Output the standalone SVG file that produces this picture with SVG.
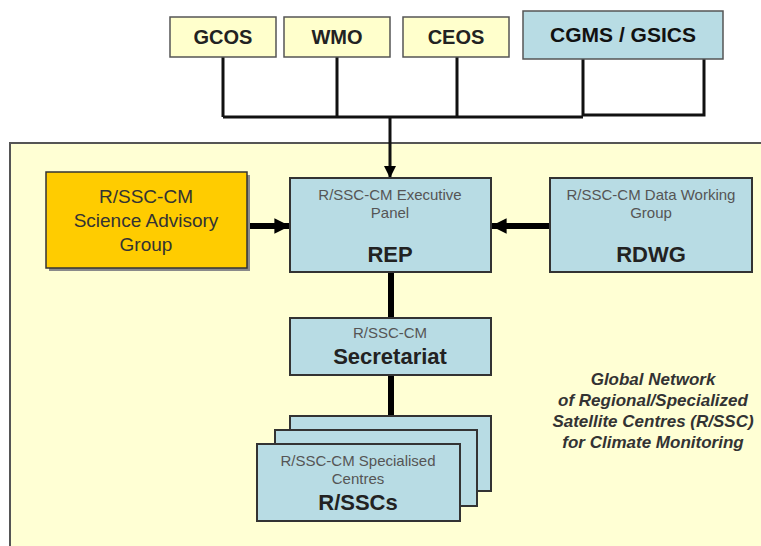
<svg xmlns="http://www.w3.org/2000/svg" width="761" height="546" viewBox="0 0 761 546">
<style>
text{font-family:"Liberation Sans",Arial,sans-serif;text-anchor:middle}
.top{fill:#FFFFCC;stroke:#555;stroke-width:1.5}
.blue{fill:#B8DCE4;stroke:#333;stroke-width:2}
.small{font-size:15px;fill:#555}
.big{font-size:22px;font-weight:bold;fill:#222}
.tb{font-size:20px;font-weight:bold;fill:#222}
.ln{stroke:#111;stroke-width:3;fill:none}
.thick{stroke:#000;stroke-width:6;fill:none}
.note{font-size:17px;font-weight:bold;font-style:italic;fill:#333}
</style>
<defs>
<marker id="ah" viewBox="0 0 10 10" refX="10" refY="5" markerWidth="4" markerHeight="4" orient="auto" markerUnits="strokeWidth"><path d="M0,0 L10,5 L0,10 z" fill="#000"/></marker>
<marker id="ah2" viewBox="0 0 10 10" refX="10" refY="5" markerWidth="2.6" markerHeight="3" orient="auto" markerUnits="strokeWidth"><path d="M0,0 L10,5 L0,10 z" fill="#000"/></marker>
</defs>
<rect width="761" height="546" fill="#fff"/>
<rect id="panel" x="10" y="143" width="770" height="420" fill="#FFFFD4" stroke="#555" stroke-width="2"/>
<g id="connectors">
<path class="ln" d="M223,57 V117 M337,57 V117 M457,57 V117 M223,117 H583 M583,59 V115 H704 V59"/>
<path class="ln" d="M390,117 V178" stroke-width="2" marker-end="url(#ah)"/>
<path class="thick" d="M248,226 H290" marker-end="url(#ah2)"/>
<path class="thick" d="M550,226 H491" marker-end="url(#ah2)"/>
<path class="thick" d="M391,272 V318 M391,375 V416"/>
</g>
<g id="gcos"><rect class="top" x="170" y="17" width="106" height="40"/><text class="tb" x="223" y="44">GCOS</text></g>
<g id="wmo"><rect class="top" x="284" y="17" width="106" height="40"/><text class="tb" x="337" y="44">WMO</text></g>
<g id="ceos"><rect class="top" x="403" y="17" width="106" height="40"/><text class="tb" x="456" y="44">CEOS</text></g>
<g id="cgms"><rect x="523" y="11" width="200" height="48" fill="#B8DCE4" stroke="#555" stroke-width="1.5"/><text x="623" y="42" style="font-size:21px;font-weight:bold;fill:#111">CGMS / GSICS</text></g>
<g id="sag">
<rect x="49" y="175" width="201" height="96" fill="#8a8a8a"/>
<rect x="46" y="172" width="201" height="96" fill="#FFCC00" stroke="#333" stroke-width="1.5"/>
<text x="146" y="203" style="font-size:19px;fill:#333">R/SSC-CM</text>
<text x="146" y="227" style="font-size:19px;fill:#333">Science Advisory</text>
<text x="146" y="251" style="font-size:19px;fill:#333">Group</text>
</g>
<g id="rep"><rect class="blue" x="290" y="178" width="201" height="94"/>
<text class="small" x="390" y="200">R/SSC-CM Executive</text>
<text class="small" x="390" y="218">Panel</text>
<text class="big" x="390" y="262">REP</text></g>
<g id="rdwg"><rect class="blue" x="550" y="178" width="202" height="94"/>
<text class="small" x="651" y="200">R/SSC-CM Data Working</text>
<text class="small" x="651" y="218">Group</text>
<text class="big" x="651" y="262">RDWG</text></g>
<g id="secretariat"><rect class="blue" x="290" y="318" width="201" height="57"/>
<text class="small" x="390" y="338">R/SSC-CM</text>
<text class="big" x="390" y="364">Secretariat</text></g>
<g id="rsscs">
<rect class="blue" x="290" y="416" width="201" height="75"/>
<rect class="blue" x="275" y="430" width="202" height="76"/>
<rect class="blue" x="257" y="444" width="203" height="77"/>
<text class="small" x="358" y="466">R/SSC-CM Specialised</text>
<text class="small" x="358" y="484">Centres</text>
<text class="big" x="358" y="510">R/SSCs</text>
</g>
<g id="note">
<text class="note" x="653" y="385">Global Network</text>
<text class="note" x="653" y="406">of Regional/Specialized</text>
<text class="note" x="653" y="427">Satellite Centres (R/SSC)</text>
<text class="note" x="653" y="448">for Climate Monitoring</text>
</g>
</svg>
